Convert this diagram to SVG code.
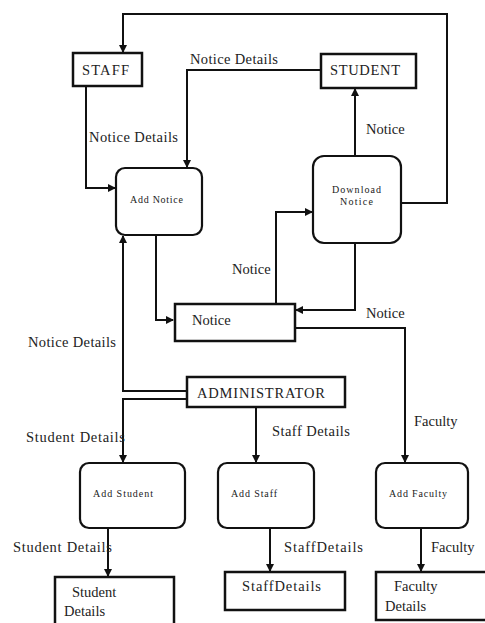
<svg xmlns="http://www.w3.org/2000/svg" width="485" height="623" viewBox="0 0 485 623" font-family="'Liberation Serif', 'DejaVu Serif', serif">
<style>
.box{fill:#fff;stroke:#111;stroke-width:2.5}
.proc{fill:#fff;stroke:#111;stroke-width:2.2}
.ln{fill:none;stroke:#111;stroke-width:2}
text{font-family:'Liberation Serif','DejaVu Serif',serif;fill:#222}
.lbl{font-size:14.5px}
.sm{font-size:10px}
</style>
<defs>
<marker id="ah" markerWidth="8" markerHeight="8" refX="7" refY="4" orient="auto" markerUnits="userSpaceOnUse">
<path d="M0,0 L8,4 L0,8 z" fill="#111"/>
</marker>
</defs>
<rect width="485" height="623" fill="#fff"/>
<g id="connectors">
<polyline class="ln" points="401,203 447,203 447,14 123,14 123,52" marker-end="url(#ah)"/>
<polyline class="ln" points="86,86 86,188 115,188" marker-end="url(#ah)"/>
<polyline class="ln" points="321,70 187,70 187,167" marker-end="url(#ah)"/>
<polyline class="ln" points="355,156 355,89" marker-end="url(#ah)"/>
<polyline class="ln" points="156,235 156,320 173,320" marker-end="url(#ah)"/>
<polyline class="ln" points="355,243 355,310 296,310" marker-end="url(#ah)"/>
<polyline class="ln" points="276,303 276,212 312,212" marker-end="url(#ah)"/>
<polyline class="ln" points="295,328 405,328 405,462" marker-end="url(#ah)"/>
<polyline class="ln" points="187,391 123,391 123,236" marker-end="url(#ah)"/>
<polyline class="ln" points="187,399 123,399 123,462" marker-end="url(#ah)"/>
<polyline class="ln" points="256,407 256,462" marker-end="url(#ah)"/>
<polyline class="ln" points="108,528 108,576" marker-end="url(#ah)"/>
<polyline class="ln" points="270,528 270,571" marker-end="url(#ah)"/>
<polyline class="ln" points="421,528 421,571" marker-end="url(#ah)"/>
<text class="lbl" x="190" y="64" textLength="88">Notice Details</text>
<text class="lbl" x="89" y="142" textLength="89">Notice Details</text>
<text class="lbl" x="366" y="134">Notice</text>
<text class="lbl" x="232" y="274">Notice</text>
<text class="lbl" x="366" y="318">Notice</text>
<text class="lbl" x="28" y="347" textLength="88">Notice Details</text>
<text class="lbl" x="414" y="426">Faculty</text>
<text class="lbl" x="26" y="442" textLength="99">Student Details</text>
<text class="lbl" x="272" y="436" textLength="78">Staff Details</text>
<text class="lbl" x="13" y="552" textLength="99">Student Details</text>
<text class="lbl" x="284" y="552" textLength="79">StaffDetails</text>
<text class="lbl" x="431" y="552">Faculty</text>
</g>
<g id="staff"><rect class="box" x="73" y="53" width="69" height="33"/><text class="lbl" x="82" y="75" textLength="47">STAFF</text></g>
<g id="student"><rect class="box" x="321" y="54" width="95" height="34"/><text class="lbl" x="330" y="75" textLength="70">STUDENT</text></g>
<g id="add-notice"><rect class="proc" x="116" y="168" width="86" height="67" rx="9"/><text class="sm" x="130" y="203" textLength="53">Add Notice</text></g>
<g id="download-notice"><rect class="proc" x="313" y="156" width="88" height="87" rx="11"/><text class="sm" x="332" y="193" textLength="49">Download</text><text class="sm" x="340" y="205" textLength="33">Notice</text></g>
<g id="notice"><rect class="box" x="175" y="304" width="120" height="37"/><text class="lbl" x="192" y="325">Notice</text></g>
<g id="administrator"><rect class="box" x="187" y="377" width="158" height="30"/><text class="lbl" x="197" y="398" textLength="128">ADMINISTRATOR</text></g>
<g id="add-student"><rect class="proc" x="80" y="463" width="105" height="65" rx="9"/><text class="sm" x="93" y="497" textLength="60">Add Student</text></g>
<g id="add-staff"><rect class="proc" x="218" y="463" width="96" height="65" rx="9"/><text class="sm" x="231" y="497" textLength="46">Add Staff</text></g>
<g id="add-faculty"><rect class="proc" x="376" y="463" width="92" height="65" rx="9"/><text class="sm" x="389" y="497" textLength="58">Add Faculty</text></g>
<g id="student-details"><rect class="box" x="55" y="577" width="119" height="50"/><text class="lbl" x="72" y="597">Student</text><text class="lbl" x="64" y="616">Details</text></g>
<g id="staff-details"><rect class="box" x="225" y="572" width="120" height="38"/><text class="lbl" x="242" y="591" textLength="79">StaffDetails</text></g>
<g id="faculty-details"><rect class="box" x="376" y="572" width="112" height="48"/><text class="lbl" x="394" y="591">Faculty</text><text class="lbl" x="385" y="611">Details</text></g>
</svg>
